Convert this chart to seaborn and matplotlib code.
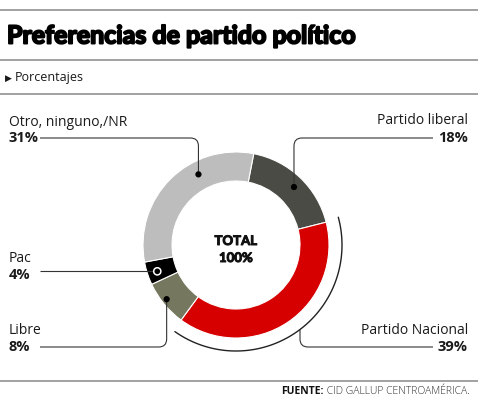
import numpy as np
import seaborn as sns
import matplotlib.pyplot as plt
import matplotlib.patheffects as pe
from matplotlib.path import Path
from matplotlib.patches import PathPatch, Circle

# datos (en el orden de las agujas del reloj)
partidos = ["Partido liberal", "Partido Nacional", "Libre", "Pac", "Otro, ninguno,/NR"]
porcentajes = [18, 39, 8, 4, 31]
colores = ["#4b4b45", "#d60000", "#76775f", "#000000", "#bdbdbd"]

sns.set_theme(style="white")
plt.rcParams["font.family"] = ["Open Sans", "DejaVu Sans"]

fig = plt.figure(figsize=(4.78, 4.0), dpi=100)
ax = fig.add_axes([0, 0, 1, 1])

cx, cy, R, W = 236, 245, 93, 29
inicio = 11  # grados desde arriba, sentido horario

ax.pie(porcentajes, colors=colores, center=(cx, cy), radius=R,
       startangle=270 + inicio, counterclock=True, frame=True,
       wedgeprops=dict(width=W, edgecolor="white", linewidth=0.8))

ax.set_xlim(0, 478)
ax.set_ylim(400, 0)
ax.set_aspect("equal")
ax.axis("off")


def punto(theta, r):
    t = np.radians(theta)
    return cx + r * np.sin(t), cy - r * np.cos(t)


def guia(pts, rad=8):
    verts, codes = [pts[0]], [Path.MOVETO]
    for i in range(1, len(pts) - 1):
        p0, p1, p2 = map(np.array, (pts[i - 1], pts[i], pts[i + 1]))
        a = p1 + (p0 - p1) / np.linalg.norm(p0 - p1) * rad
        b = p1 + (p2 - p1) / np.linalg.norm(p2 - p1) * rad
        verts += [tuple(a), tuple(p1), tuple(b)]
        codes += [Path.LINETO, Path.CURVE3, Path.CURVE3]
    verts.append(pts[-1])
    codes.append(Path.LINETO)
    ax.add_patch(PathPatch(Path(verts, codes), fill=False, lw=0.8, color="#333333"))


# puntos de las guías
p_otro = punto(-28, 80)
p_lib = punto(45, 82)
p_pac = punto(251.5, 83)
p_libre = punto(232, 88)

guia([(40, 138), (p_otro[0], 138), p_otro])
guia([(433, 138), (p_lib[0], 138), p_lib])
guia([(40, p_pac[1]), p_pac])
guia([p_libre, (p_libre[0], 347), (40, 347)])

for p in (p_otro, p_lib, p_libre):
    ax.add_patch(Circle(p, 2.4, color="black", zorder=5))
ax.add_patch(Circle(p_pac, 3.6, facecolor="black", edgecolor="white", lw=1.1, zorder=5))

# arco exterior del Partido Nacional
acum = np.cumsum([0] + porcentajes)
i_nac = partidos.index("Partido Nacional")
t1 = inicio + 360 * acum[i_nac] / 100 - 1
t2 = inicio + 360 * acum[i_nac + 1] / 100 - 1
th = np.linspace(t1, t2, 100)
Ra = 106
ax.plot(cx + Ra * np.sin(np.radians(th)), cy - Ra * np.cos(np.radians(th)),
        color="#222222", lw=1.0)
x_nac = 300
t_nac = 180 - np.degrees(np.arcsin((x_nac - cx) / Ra))
p_nac = punto(t_nac, Ra)
guia([p_nac, (x_nac, 347), (433, 347)])

# etiquetas
etq = dict(fontsize=10, color="#1a1a1a", va="center")
num = dict(fontsize=10.5, color="#1a1a1a", va="center", fontweight="bold")
ax.text(9, 122, partidos[4], ha="left", **etq)
ax.text(9, 138, f"{porcentajes[4]}%", ha="left", **num)
ax.text(9, 259, partidos[3], ha="left", **etq)
ax.text(9, 275, f"{porcentajes[3]}%", ha="left", **num)
ax.text(9, 330, partidos[2], ha="left", **etq)
ax.text(9, 347, f"{porcentajes[2]}%", ha="left", **num)
ax.text(468, 121, partidos[0], ha="right", **etq)
ax.text(468, 138, f"{porcentajes[0]}%", ha="right", **num)
ax.text(468, 330, partidos[1], ha="right", **etq)
ax.text(468, 347, f"{porcentajes[1]}%", ha="right", **num)

grueso = [pe.withStroke(linewidth=0.7, foreground="#111111")]
ax.text(cx, 241, "TOTAL", ha="center", va="center", fontsize=9.5,
        fontweight="bold", family=["Lato", "DejaVu Sans"], color="#111111",
        path_effects=grueso)
ax.text(cx, 258, f"{sum(porcentajes)}%", ha="center", va="center", fontsize=9.5,
        fontweight="bold", family=["Lato", "DejaVu Sans"], color="#111111",
        path_effects=grueso)

# cabecera
for y in (10, 60, 94, 381):
    ax.plot([0, 478], [y, y], color="#9a9a9a", lw=1.3)
ax.text(7, 36, "Preferencias de partido político", ha="left", va="center",
        fontsize=18, fontweight="bold", family=["Lato", "DejaVu Sans"], color="#000000",
        path_effects=[pe.withStroke(linewidth=1.4, foreground="black")])
ax.text(5, 78, "▶", ha="left", va="center", fontsize=6.5, color="#1a1a1a",
        family=["DejaVu Sans"])
ax.text(15, 78, "Porcentajes", ha="left", va="center", fontsize=9, color="#1a1a1a")

# fuente
t = ax.text(470, 392, " CID GALLUP CENTROAMÉRICA.", ha="right", va="center",
            fontsize=7.5, fontweight="light", color="#333333")
ax.annotate("FUENTE:", xy=(0, 0.5), xycoords=t, ha="right", va="center",
            fontsize=7.5, fontweight="bold", color="#111111")

fig.savefig("out.png", dpi=100)
